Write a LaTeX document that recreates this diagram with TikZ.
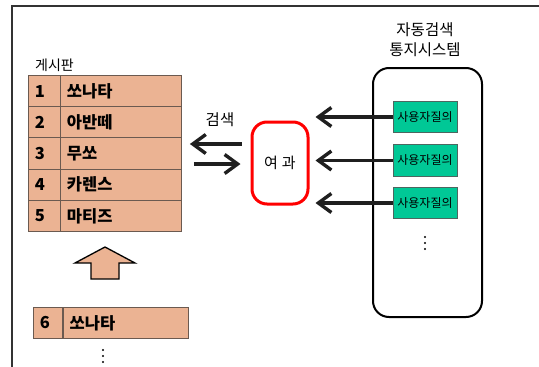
\documentclass[tikz,border=0pt]{standalone}
\usepackage{fontspec}
\setmainfont{Noto Sans CJK KR}
\usetikzlibrary{arrows.meta}
\definecolor{tblfill}{HTML}{EBB393}
\definecolor{tblline}{HTML}{6B5A50}
\definecolor{qfill}{HTML}{00C896}
\definecolor{qline}{HTML}{4D6660}
\begin{document}
\begin{tikzpicture}[x=1pt,y=-1pt,
  frameline/.style={draw=black!80, line width=1.5pt},
  cellbase/.style={draw=tblline, fill=tblfill, line width=0.9pt, anchor=north west,
    align=left, inner ysep=0pt, font=\bfseries\fontsize{16.5}{16.5}\selectfont},
  numcell/.style={cellbase, text width=19pt, inner xsep=6.5pt, minimum height=31.2pt},
  namecell/.style={cellbase, text width=108pt, inner xsep=6.5pt, minimum height=31.2pt},
  qbox/.style={draw=qline, fill=qfill, line width=0.8pt, minimum width=64pt, minimum height=31.5pt,
    inner sep=0pt, font=\fontsize{12}{12}\selectfont},
  bigarrow/.style={draw=black!88, line width=3.6pt,
    -{Straight Barb[length=13pt,width=19pt,line width=3.4pt]}},
  plain/.style={inner sep=0pt, font=\fontsize{15.5}{20}\selectfont, align=center},
  dotmark/.style={fill=black, circle, inner sep=0pt, minimum size=2.2pt},
]
\useasboundingbox (0,0) rectangle (539,367);
\draw[frameline] (12,367) -- (12,6) -- (539,6);

% board
\node[plain, anchor=west, font=\fontsize{14}{14}\selectfont] (boardlbl) at (35,65) {게시판};
\foreach \n/\name [count=\i from 0] in {1/쏘나타,2/아반떼,3/무쏘,4/카렌스,5/마티즈}{
  \node[numcell] (n\n) at (28,{75+\i*31.2}) {\n};
  \node[namecell] (t\n) at (60,{75+\i*31.2}) {\name};
}
% up arrow
\draw[draw=black, line width=1.3pt, fill=tblfill, line join=miter]
  (105,247) -- (135,263) -- (119,263) -- (119,279) -- (91,279) -- (91,263) -- (75,263) -- cycle;
% new row
\node[cellbase, text width=16.2pt, inner xsep=6.5pt, minimum height=31pt] (n6) at (33,307) {6};
\node[cellbase, text width=112.3pt, inner xsep=6.5pt, minimum height=31pt] (t6) at (62.7,307) {쏘나타};
\foreach \yy [count=\j] in {350,356,362}{
  \node[dotmark] (ld\j) at (103,\yy) {};
}

% filter
\node[draw=red, line width=3pt, rounded corners=15pt, minimum width=56pt, minimum height=82pt,
  inner sep=0pt, font=\fontsize{15}{15}\selectfont] (red) at (280,163) {여\hspace{4pt}과};
\node[plain] (search) at (220,120) {검색};
\coordinate (ya) at (0,144);
\coordinate (yb) at (0,164);
\draw[bigarrow, shorten <=9pt, shorten >=8pt] (red.west |- ya) -- (t3.east |- ya);
\draw[bigarrow, shorten <=12pt, shorten >=10pt] (t3.east |- yb) -- (red.west |- yb);

% system
\node[plain] (systitle) at (425,40) {자동검색\\통지시스템};
\node[draw=black, line width=2pt, rounded corners=16pt, minimum width=109pt, minimum height=249pt,
  inner sep=0pt] (sys) at (427.5,192.5) {};
\foreach \k/\yy in {1/117,2/160.5,3/203}{
  \node[qbox] (q\k) at (425,\yy) {사용자질의};
  \draw[bigarrow, shorten >=6pt] (q\k.west) -- (q\k.west -| red.east);
}
\foreach \yy [count=\j] in {237,243,249}{
  \node[dotmark] (rd\j) at (425,\yy) {};
}
\end{tikzpicture}
\end{document}
